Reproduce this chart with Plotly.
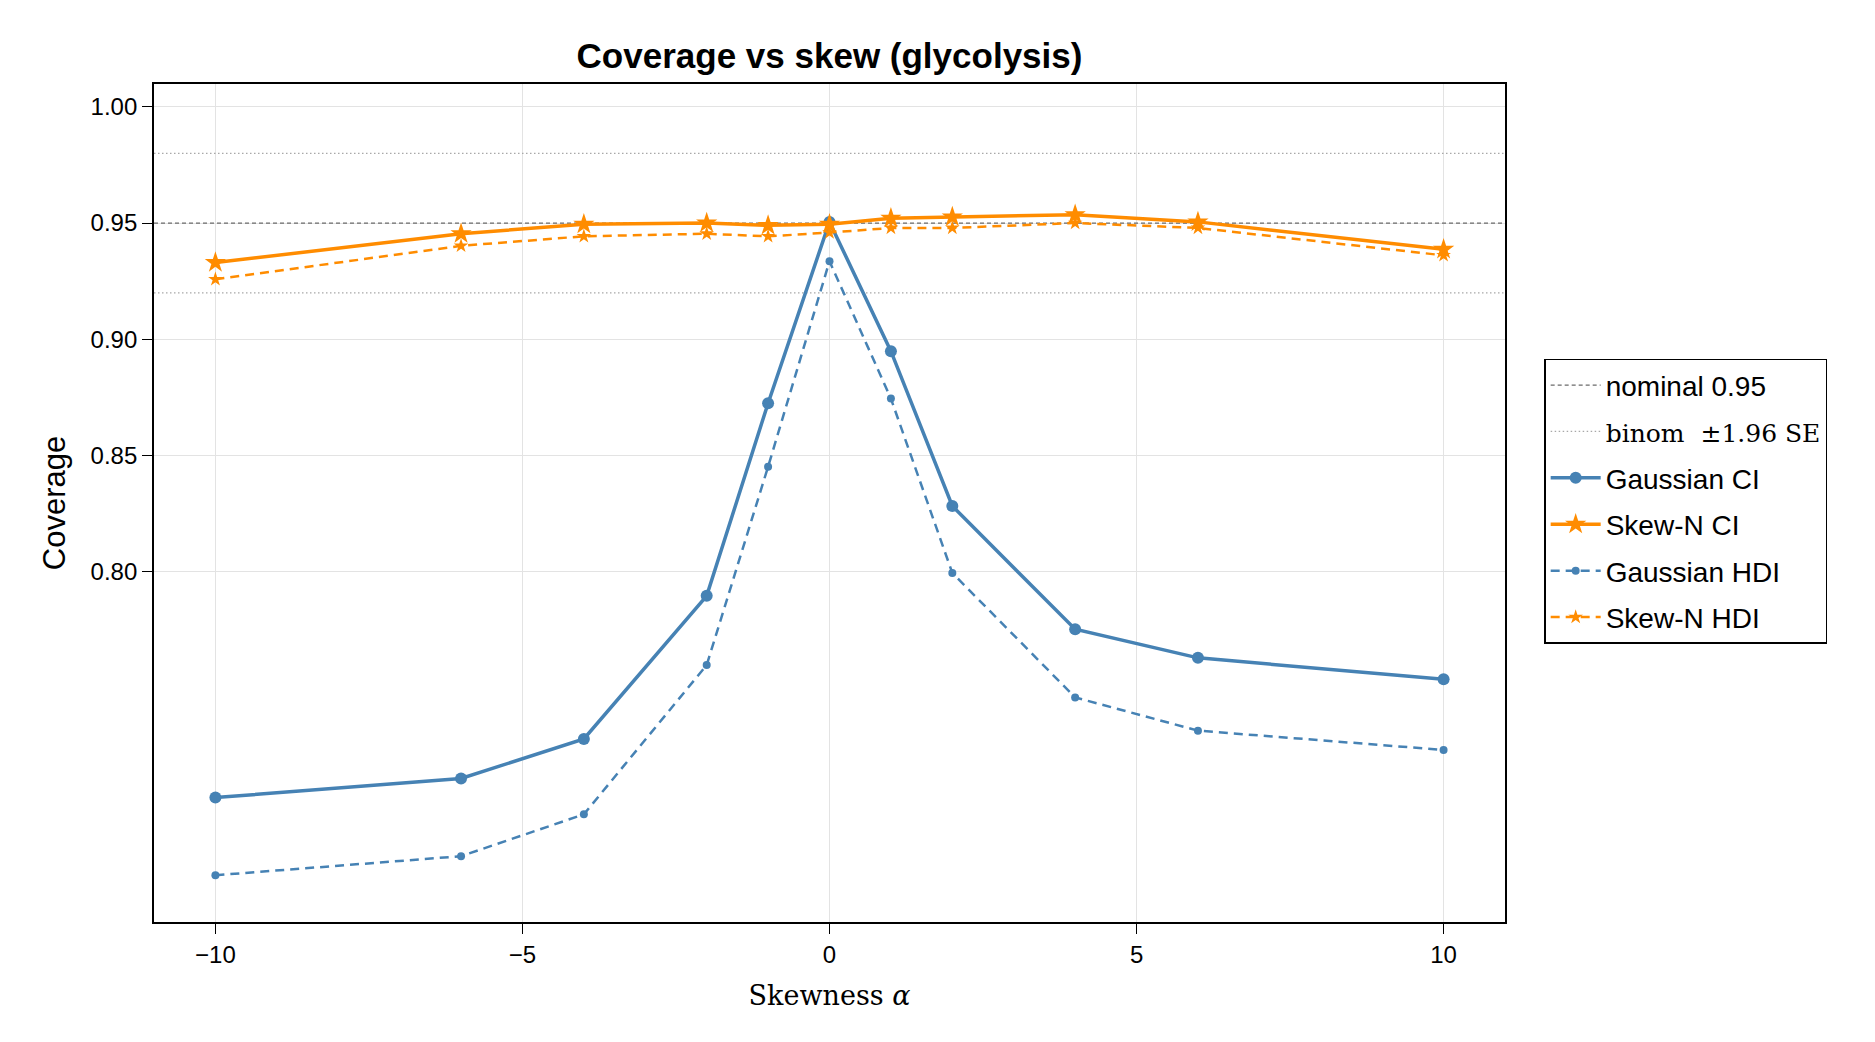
import plotly.graph_objects as go

# ---- data ----
alpha = [-10, -6, -4, -2, -1, 0, 1, 2, 4, 6, 10]
gauss_ci = [0.7029, 0.7111, 0.7281, 0.7897, 0.8725, 0.9505, 0.8949, 0.8283, 0.7753, 0.7630, 0.7538]
gauss_hdi = [0.6695, 0.6777, 0.6957, 0.7599, 0.8452, 0.9336, 0.8745, 0.7995, 0.7460, 0.7317, 0.7234]
skew_ci = [0.9330, 0.9454, 0.9495, 0.9500, 0.9490, 0.9495, 0.9521, 0.9526, 0.9536, 0.9505, 0.9387]
skew_hdi = [0.9258, 0.9402, 0.9443, 0.9454, 0.9443, 0.9459, 0.9479, 0.9479, 0.9500, 0.9479, 0.9361]
nominal = 0.95
binom_lo = 0.92
binom_hi = 0.98
x_range = [-11, 11]
y_range = [0.6494, 1.0098]
x_ticks = [-10, -5, 0, 5, 10]
y_ticks = [0.80, 0.85, 0.90, 0.95, 1.00]
y_ticktext = ["0.80", "0.85", "0.90", "0.95", "1.00"]

BLUE = "#4682B4"
ORANGE = "#FF8C00"
SANS = "Liberation Sans, Arial, sans-serif"
SERIF = "DejaVu Serif, Liberation Serif, serif"

fig = go.Figure()

fig.add_trace(go.Scatter(
    x=[x_range[0], x_range[1]], y=[nominal, nominal], mode="lines",
    line=dict(color="#6b6b6b", width=1.2, dash="4px,3px"),
    name="nominal 0.95", legendgroup="a", hoverinfo="skip"))
fig.add_trace(go.Scatter(
    x=[x_range[0], x_range[1], None, x_range[0], x_range[1]],
    y=[binom_lo, binom_lo, None, binom_hi, binom_hi], mode="lines",
    line=dict(color="#a8a8a8", width=1.2, dash="1.5px,2.5px"),
    name='<span style="font-family:DejaVu Serif, serif;font-size:25px">binom  ±1.96 SE</span>',
    legendgroup="b", hoverinfo="skip"))
fig.add_trace(go.Scatter(
    x=alpha, y=gauss_ci, mode="lines+markers", name="Gaussian CI", legendgroup="c",
    line=dict(color=BLUE, width=3.5), marker=dict(symbol="circle", size=12, color=BLUE)))
fig.add_trace(go.Scatter(
    x=alpha, y=skew_ci, mode="lines+markers", name="Skew-N CI", legendgroup="d",
    line=dict(color=ORANGE, width=3.5), marker=dict(symbol="star", size=16, color=ORANGE)))
fig.add_trace(go.Scatter(
    x=alpha, y=gauss_hdi, mode="lines+markers", name="Gaussian HDI", legendgroup="e",
    line=dict(color=BLUE, width=2.5, dash="9px,6px"), marker=dict(symbol="circle", size=8, color=BLUE)))
fig.add_trace(go.Scatter(
    x=alpha, y=skew_hdi, mode="lines+markers", name="Skew-N HDI", legendgroup="f",
    line=dict(color=ORANGE, width=2.5, dash="9px,6px"), marker=dict(symbol="star", size=11, color=ORANGE)))

fig.update_layout(
    width=1875, height=1042,
    margin=dict(l=154, r=370, t=84, b=120, autoexpand=False),
    paper_bgcolor="white", plot_bgcolor="white",
    font=dict(family=SANS, size=24, color="black"),
    title=dict(text="<b>Coverage vs skew (glycolysis)</b>", x=0.5, xref="paper", xanchor="center",
               y=1.0, yref="paper", yanchor="bottom", pad=dict(b=16),
               font=dict(family=SANS, size=35, color="black")),
    showlegend=True,
    legend=dict(x=1.029, xanchor="left", y=0.672, yanchor="top",
                bordercolor="black", borderwidth=1.5, bgcolor="white",
                font=dict(family=SANS, size=28), tracegroupgap=7,
                traceorder="grouped", itemwidth=50),
    xaxis=dict(range=x_range, tickvals=x_ticks, ticks="outside", ticklen=10, tickwidth=1.2,
               tickcolor="black", showgrid=True, gridcolor="#e3e3e3", gridwidth=1.2,
               zeroline=False, showline=True, linecolor="black", linewidth=1.8, mirror=True,
               tickfont=dict(family=SANS, size=24),
               title=dict(text="Skewness <i>α</i>", font=dict(family=SERIF, size=27), standoff=19)),
    yaxis=dict(range=y_range, tickvals=y_ticks, ticktext=y_ticktext,
               ticks="outside", ticklen=10, tickwidth=1.2,
               tickcolor="black", showgrid=True, gridcolor="#e3e3e3", gridwidth=1.2,
               zeroline=False, showline=True, linecolor="black", linewidth=1.8, mirror=True,
               tickfont=dict(family=SANS, size=24),
               title=dict(text="Coverage", font=dict(family=SANS, size=31), standoff=16)),
)

fig.write_html("out.html")
